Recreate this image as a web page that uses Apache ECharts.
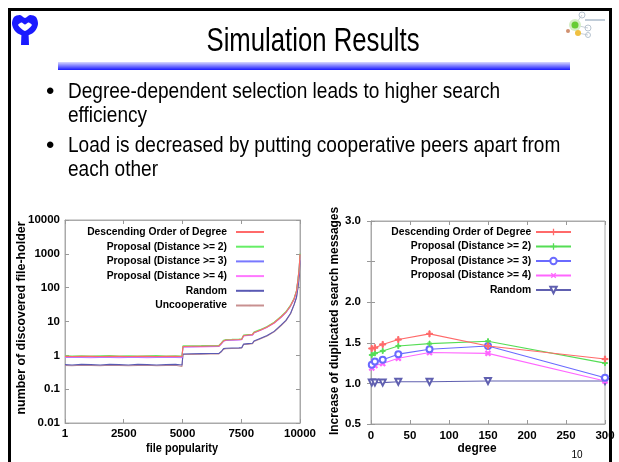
<!DOCTYPE html>
<html>
<head>
<meta charset="utf-8">
<script src="https://cdn.jsdelivr.net/npm/echarts@6/dist/echarts.min.js"></script>
<style>
html,body{margin:0;padding:0;background:#fff;}
#c{width:619px;height:462px;}
</style>
</head>
<body>
<div id="c"></div>
<script>
// ---- Left chart data ----
const popX = [1, 300, 700, 1100, 1500, 1900, 2300, 2700, 3100, 3500, 3900, 4300, 4700, 4980, 5020, 5400, 5800, 6200, 6550, 6650, 6750, 6850, 7100, 7400, 7520, 7600, 7800, 7980, 8040, 8300, 8600, 8900, 9200, 9400, 9600, 9750, 9850, 9920, 9970, 10000];
const popDesc = [0.93,0.92,0.94,0.93,0.92,0.94,0.93,0.92,0.93,0.94,0.92,0.93,0.94,0.92, 1.83,1.85,1.86,1.88,1.90, 2.25,2.70,2.84,2.88,2.94,2.98, 3.85,3.98,4.08, 4.70,5.55,6.90,9.20,13.8,18.8,29.5,47,79,185,410,980];
const popP2 = [0.97,0.96,0.97,0.96,0.97,0.98,0.96,0.97,0.96,0.97,0.98,0.96,0.97,0.96, 1.90,1.92,1.93,1.95,1.97, 2.32,2.80,2.94,2.98,3.03,3.08, 4.00,4.12,4.22, 4.85,5.75,7.10,9.50,14.3,19.5,30.5,49,82,195,430,1020];
const popP3 = [0.90,0.91,0.90,0.89,0.91,0.90,0.89,0.91,0.90,0.89,0.90,0.91,0.90,0.89, 1.80,1.81,1.83,1.85,1.87, 2.20,2.66,2.80,2.85,2.90,2.95, 3.82,3.94,4.04, 4.65,5.50,6.85,9.10,13.6,18.6,29,46,78,180,400,950];
const popP4 = [0.86,0.87,0.86,0.85,0.87,0.86,0.85,0.87,0.86,0.85,0.86,0.87,0.86,0.85, 1.74,1.76,1.78,1.80,1.82, 2.14,2.60,2.74,2.78,2.84,2.88, 3.72,3.85,3.95, 4.55,5.40,6.70,8.90,13.3,18.2,28.5,45,76,175,390,900];
const popRandom = [0.53,0.52,0.54,0.53,0.52,0.54,0.53,0.52,0.54,0.53,0.52,0.53,0.54,0.52, 1.10,1.11,1.12,1.13,1.14, 1.30,1.58,1.62,1.64,1.66,1.68, 2.15,2.22,2.28, 2.65,3.15,3.85,5.10,7.9,10.8,17.5,32,52,110,240,650];
const popUncoop = [0.50,0.49,0.51,0.50,0.49,0.51,0.50,0.49,0.50,0.51,0.49,0.50,0.51,0.47, 1.06,1.07,1.08,1.09,1.10, 1.26,1.53,1.57,1.60,1.62,1.64, 2.08,2.15,2.21, 2.58,3.05,3.75,4.95,7.6,10.4,17,31,50,105,230,620];
const popXTicks = [1, 2500, 5000, 7500, 10000];
const popYTicks = [0.01, 0.1, 1, 10, 100, 1000, 10000];

// ---- Right chart data ----
const degX = [1, 5, 15, 35, 75, 150, 300];
const degDesc = [1.43, 1.44, 1.48, 1.54, 1.61, 1.46, 1.30];
const degP2 = [1.35, 1.37, 1.40, 1.46, 1.49, 1.52, 1.25];
const degP3 = [1.23, 1.27, 1.29, 1.36, 1.42, 1.46, 1.07];
const degP4 = [1.19, 1.22, 1.245, 1.31, 1.38, 1.37, 1.03];
const degRandom = [1.01, 1.01, 1.01, 1.02, 1.02, 1.03, 1.03];

const names = ['Descending Order of Degree', 'Proposal (Distance >= 2)', 'Proposal (Distance >= 3)', 'Proposal (Distance >= 4)', 'Random', 'Uncooperative'];
const bullets = ['Degree-dependent selection leads to higher search', 'efficiency', 'Load is decreased by putting cooperative peers apart from', 'each other'];

const SANS = "'Liberation Sans',Arial,sans-serif";
const colL = ['#ff6a6a', '#66ee66', '#7878ff', '#ff78ff', '#5a5ab4', '#c89090'];
const colR = ['#ff6a6a', '#55dd55', '#6a6aff', '#ff66ff', '#6060b0'];

function zip(xs, ys) { return xs.map((x, i) => [x, ys[i]]); }

// text width fitting (reference uses a condensed Japanese gothic face)
const mctx = document.createElement('canvas').getContext('2d');
function textW(t, font) { mctx.font = font; return mctx.measureText(t).width; }
function fitScale(t, font, w) { return w / textW(t, font); }

const legendFs = 12.5 * 140 / textW(names[0], 'bold 12.5px ' + SANS);

const plusPath = 'path://M4,0 H6 V4 H10 V6 H6 V10 H4 V6 H0 V4 H4 Z';

const chart = echarts.init(document.getElementById('c'), null, {renderer: 'canvas'});

const tickLabel = {fontFamily: SANS, fontWeight: 'bold', fontSize: 11.5, color: '#000'};
const axisLineGray = {show: true, lineStyle: {color: '#aaa', width: 1}};
const tickStyle = {color: '#999'};

const leftSeriesData = [popDesc, popP2, popP3, popP4, popRandom, popUncoop];
const rightSeriesData = [degDesc, degP2, degP3, degP4, degRandom];
const rightSymbols = [plusPath, plusPath, 'emptyCircle', plusPath, 'emptyTriangle'];
const rightSymRot = [0, 0, 0, 45, 180];
const rightSymSize = [6, 5, 6, 6, 6];

const series = [];
leftSeriesData.forEach((d, i) => {
  series.push({
    name: names[i], type: 'line', xAxisIndex: 0, yAxisIndex: 0,
    data: zip(popX, d), symbol: 'none', showSymbol: false, legendIcon: 'rect',
    lineStyle: {width: 1.1, color: colL[i]}, itemStyle: {color: colL[i]},
    z: 10 - i
  });
});
rightSeriesData.forEach((d, i) => {
  series.push({
    name: names[i] + ' ', type: 'line', xAxisIndex: 1, yAxisIndex: 1,
    data: zip(degX, d), symbol: rightSymbols[i], symbolSize: rightSymSize[i], symbolRotate: rightSymRot[i],
    showSymbol: true,
    lineStyle: {width: 1.1, color: colR[i]},
    itemStyle: {color: colR[i], borderColor: colR[i]},
    z: 10 - i
  });
});

const legendText = {fontFamily: SANS, fontWeight: 'bold', fontSize: legendFs, color: '#000', lineHeight: 12};
const centerText = {align: 'center', verticalAlign: 'middle', textAlign: 'center', textVerticalAlign: 'middle'};
const leftText = {verticalAlign: 'middle', textVerticalAlign: 'middle'};

const titleFont = '33px ' + SANS;
const bulletFont = '22px ' + SANS;
const nameFont = 'bold 13px ' + SANS;
const bScale = fitScale(bullets[0], bulletFont, 432);

function txt(x, y, text, font, w, extra, rot) {
  const o = {type: 'text', x: x, y: y, scaleX: w ? fitScale(text, font, w) : 1,
    style: Object.assign({text: text, font: font, fill: '#000'}, extra)};
  if (rot) o.rotation = rot;
  return o;
}

const option = {
  animation: false,
  backgroundColor: '#fff',
  grid: [
    {left: 65, top: 220, width: 235, height: 203, show: true, borderColor: '#aaa', borderWidth: 1, containLabel: false, outerBoundsMode: 'none'},
    {left: 371, top: 221, width: 234, height: 203, show: true, borderColor: '#aaa', borderWidth: 1, containLabel: false, outerBoundsMode: 'none'}
  ],
  xAxis: [
    {gridIndex: 0, type: 'value', min: 1, max: 10000, axisLine: axisLineGray,
      axisTick: {show: true, inside: true, length: 4, customValues: popXTicks, lineStyle: tickStyle},
      axisLabel: Object.assign({customValues: popXTicks, margin: 5, formatter: v => String(v)}, tickLabel), splitLine: {show: false}},
    {gridIndex: 1, type: 'value', min: 0, max: 300, interval: 50, axisLine: axisLineGray,
      axisTick: {show: true, inside: true, length: 4, lineStyle: tickStyle},
      axisLabel: Object.assign({margin: 6, formatter: v => String(v)}, tickLabel), splitLine: {show: false}},
    {gridIndex: 0, type: 'value', position: 'top', min: 1, max: 10000, axisLine: axisLineGray,
      axisTick: {show: true, inside: true, length: 4, customValues: popXTicks, lineStyle: tickStyle},
      axisLabel: {show: false}, splitLine: {show: false}},
    {gridIndex: 1, type: 'value', position: 'top', min: 0, max: 300, interval: 50, axisLine: axisLineGray,
      axisTick: {show: true, inside: true, length: 4, lineStyle: tickStyle},
      axisLabel: {show: false}, splitLine: {show: false}}
  ],
  yAxis: [
    {gridIndex: 0, type: 'log', logBase: 10, min: 0.01, max: 10000, axisLine: axisLineGray,
      axisTick: {show: true, inside: true, length: 4, customValues: popYTicks, lineStyle: tickStyle},
      axisLabel: Object.assign({customValues: popYTicks, margin: 5, formatter: v => String(+(+v).toPrecision(3))}, tickLabel),
      splitLine: {show: false}},
    {gridIndex: 1, type: 'value', min: 0.5, max: 3.0, interval: 0.5, axisLine: axisLineGray,
      axisTick: {show: true, inside: true, length: 4, lineStyle: tickStyle},
      axisLabel: Object.assign({margin: 10, formatter: v => (Math.abs(v - 2.5) < 1e-6 ? '' : (+v).toFixed(1))}, tickLabel),
      splitLine: {show: false}},
    {gridIndex: 0, type: 'log', logBase: 10, position: 'right', min: 0.01, max: 10000, axisLine: axisLineGray,
      axisTick: {show: true, inside: true, length: 4, customValues: popYTicks, lineStyle: tickStyle},
      axisLabel: {show: false}, splitLine: {show: false}},
    {gridIndex: 1, type: 'value', position: 'right', min: 0.5, max: 3.0, interval: 0.5, axisLine: axisLineGray,
      axisTick: {show: true, inside: true, length: 4, lineStyle: tickStyle},
      axisLabel: {show: false}, splitLine: {show: false}}
  ],
  legend: [
    {data: names, orient: 'vertical', align: 'right', right: 354, top: 226, padding: 0, itemWidth: 28, itemHeight: 1.6, itemGap: 2.7,
      textStyle: Object.assign({}, legendText, {padding: [0, 4, 0, 0]}), selectedMode: false},
    {data: names.slice(0, 5).map(n => n + ' '), orient: 'vertical', align: 'right', right: 47, top: 226, padding: 0, itemWidth: 35, itemHeight: 8, itemGap: 2.5,
      textStyle: Object.assign({}, legendText, {padding: [0, -3, 0, 0]}), selectedMode: false}
  ],
  series: series,
  graphic: [
    {type: 'rect', shape: {x: 9.5, y: 9.5, width: 601, height: 470}, style: {fill: 'none', stroke: '#000', lineWidth: 3}, silent: true},
    // left logo
    {type: 'polygon', shape: {points: [[12,24],[14,17],[20,15],[25,18],[30,15],[36,17],[38,24],[35,31],[29,35],[21,35],[15,31]], smooth: 0.3}, style: {fill: '#1a1aff'}},
    {type: 'polygon', shape: {points: [[21.5,32],[28.5,32],[29,45],[21,45]]}, style: {fill: '#1a1aff'}},
    {type: 'polygon', shape: {points: [[18,25],[21.5,22.5],[25,24.5],[28.5,22.5],[32,25],[25,31]], smooth: 0.2}, style: {fill: '#fff'}},
    // right logo
    {type: 'line', shape: {x1: 575, y1: 25, x2: 582, y2: 15}, style: {stroke: '#c8d0d8', lineWidth: 1}},
    {type: 'line', shape: {x1: 575, y1: 25, x2: 588, y2: 28}, style: {stroke: '#c8d0d8', lineWidth: 1}},
    {type: 'line', shape: {x1: 578, y1: 33, x2: 588, y2: 35}, style: {stroke: '#c8d0d8', lineWidth: 1}},
    {type: 'circle', shape: {cx: 582, cy: 15, r: 3}, style: {fill: 'none', stroke: '#b8c4d0', lineWidth: 1}},
    {type: 'circle', shape: {cx: 588, cy: 28, r: 3}, style: {fill: 'none', stroke: '#b8c4d0', lineWidth: 1}},
    {type: 'circle', shape: {cx: 588, cy: 35, r: 2.5}, style: {fill: 'none', stroke: '#b8c4d0', lineWidth: 1}},
    {type: 'circle', shape: {cx: 575, cy: 25, r: 6}, style: {fill: '#d4eec4'}},
    {type: 'circle', shape: {cx: 575, cy: 25, r: 3.5}, style: {fill: '#66cc33'}},
    {type: 'circle', shape: {cx: 578, cy: 33, r: 3}, style: {fill: '#f0c040'}},
    {type: 'circle', shape: {cx: 568, cy: 31, r: 2}, style: {fill: '#d09070'}},
    {type: 'rect', shape: {x: 585, y: 19, width: 20, height: 2}, style: {fill: '#c0ccd8'}},
    // title + bar
    txt(313, 42, 'Simulation Results', titleFont, 213, centerText),
    {type: 'rect', shape: {x: 58, y: 62, width: 512, height: 8},
      style: {fill: {type: 'linear', x: 0, y: 0, x2: 0, y2: 1, colorStops: [{offset: 0, color: '#d8d8ff'}, {offset: 1, color: '#1818ff'}]}}},
    // bullets
    txt(46, 92, '•', '24px ' + SANS, 0, leftText),
    txt(46, 146, '•', '24px ' + SANS, 0, leftText),
    Object.assign(txt(68, 92, bullets[0], bulletFont, 0, leftText), {scaleX: bScale}),
    Object.assign(txt(68, 116, bullets[1], bulletFont, 0, leftText), {scaleX: bScale}),
    Object.assign(txt(68, 146, bullets[2], bulletFont, 0, leftText), {scaleX: bScale}),
    Object.assign(txt(68, 170, bullets[3], bulletFont, 0, leftText), {scaleX: bScale}),
    // axis names
    txt(21, 318, 'number of discovered file-holder', nameFont, 193, centerText, Math.PI / 2),
    txt(182, 448, 'file popularity', nameFont, 72, centerText),
    txt(334, 321, 'Increase of duplicated search messages', nameFont, 228, centerText, Math.PI / 2),
    txt(477, 448, 'degree', nameFont, 39, centerText),
    txt(577, 455, '10', '10px ' + SANS, 0, centerText)
  ]
};
chart.setOption(option);
</script>
</body>
</html>
